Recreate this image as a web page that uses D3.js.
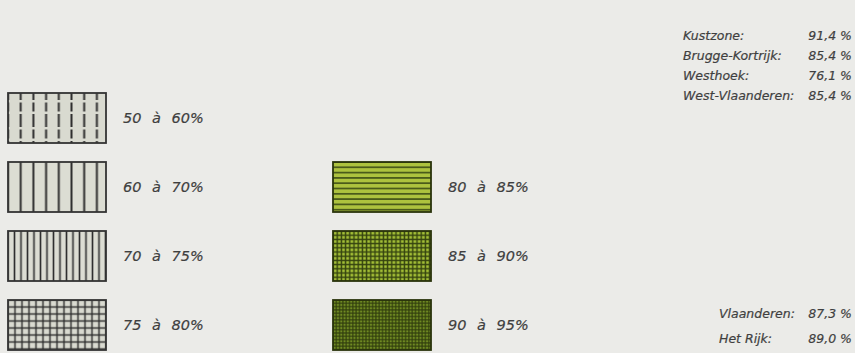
<!DOCTYPE html>
<html>
<head>
<meta charset="utf-8">
<script src="https://cdn.jsdelivr.net/npm/d3@7"></script>
<style>
	body { margin: 0; background: #ebebe8; }
	svg { display: block; }
	.lbl { font-family: "DejaVu Sans", sans-serif; font-style: italic; fill: #3f3f3f; stroke: #3f3f3f; stroke-width: 0.2px; }
</style>
</head>
<body>
<div id="chart"></div>
<script>
// legend classes (percentage bands)
var classLabels = ["50 à 60%", "60 à 70%", "70 à 75%", "75 à 80%", "80 à 85%", "85 à 90%", "90 à 95%"];
var classColumn = [0, 0, 0, 0, 1, 1, 1];
var classRow = [0, 1, 2, 3, 1, 2, 3];

// regional figures
var regions = ["Kustzone:", "Brugge-Kortrijk:", "Westhoek:", "West-Vlaanderen:"];
var regionValues = ["91,4 %", "85,4 %", "76,1 %", "85,4 %"];
var totals = ["Vlaanderen:", "Het Rijk:"];
var totalValues = ["87,3 %", "89,0 %"];

var width = 855, height = 353;
var svg = d3.select("#chart").append("svg").attr("width", width).attr("height", height);

svg.append("rect").attr("width", width).attr("height", height).attr("fill", "#ebebe8");

var defs = svg.append("defs");

var swW = 98, swH = 50;
var xCol = d3.scaleOrdinal().domain([0, 1]).range([8, 333]);
var yRow = d3.scalePoint().domain([0, 1, 2, 3]).range([118, 325]);

// pattern definitions: fill, line colour, vertical step, horizontal step, dash
var pats = [
	{ fill: "#d9dad0", stroke: "#2f2f2f", vx: 12.7, hy: 0, dash: "9 2.5", sw: 2 },
	{ fill: "#dcddd3", stroke: "#2f2f2f", vx: 12.7, hy: 0, dash: null, sw: 2 },
	{ fill: "#dcddd3", stroke: "#2f2f2f", vx: 6.5, hy: 0, dash: null, sw: 1.6 },
	{ fill: "#d9dad0", stroke: "#2a2a2a", vx: 7.0, hy: 7.0, dash: null, sw: 1.4 },
	{ fill: "#adc23e", stroke: "#4a5a1a", vx: 0, hy: 5.3, dash: null, sw: 1.6 },
	{ fill: "#a2bd36", stroke: "#34420f", vx: 4.2, hy: 4.2, dash: null, sw: 1.4 },
	{ fill: "#6f8a22", stroke: "#2f3c0c", vx: 3.3, hy: 3.3, dash: null, sw: 1.1 }
];

pats.forEach(function (p, i) {
	var pw = p.vx || swW, ph = p.hy || swH;
	var pat = defs.append("pattern")
		.attr("id", "pat" + i)
		.attr("patternUnits", "userSpaceOnUse")
		.attr("x", xCol(classColumn[i]) + pw / 2)
		.attr("y", yRow(classRow[i]) - swH / 2 + ph / 2)
		.attr("width", pw)
		.attr("height", ph);
	pat.append("rect").attr("width", pw).attr("height", ph).attr("fill", p.fill);
	if (p.vx) {
		pat.append("line").attr("x1", pw / 2).attr("x2", pw / 2).attr("y1", 0).attr("y2", ph)
			.attr("stroke", p.stroke).attr("stroke-width", p.sw)
			.attr("stroke-dasharray", p.dash);
	}
	if (p.hy) {
		pat.append("line").attr("x1", 0).attr("x2", pw).attr("y1", ph / 2).attr("y2", ph / 2)
			.attr("stroke", p.stroke).attr("stroke-width", p.sw);
	}
});

var items = svg.selectAll("g.item")
	.data(classLabels)
	.enter()
	.append("g")
	.attr("class", "item");

items.append("rect")
	.attr("x", function (d, i) { return xCol(classColumn[i]); })
	.attr("y", function (d, i) { return yRow(classRow[i]) - swH / 2; })
	.attr("width", swW)
	.attr("height", swH)
	.attr("fill", function (d, i) { return "url(#pat" + i + ")"; })
	.attr("stroke", function (d, i) { return classColumn[i] ? "#2a340c" : "#333"; })
	.attr("stroke-width", 1.8);

items.append("text")
	.attr("class", "lbl")
	.attr("x", function (d, i) { return xCol(classColumn[i]) + swW + 17; })
	.attr("y", function (d, i) { return yRow(classRow[i]) + 5; })
	.style("font-size", "14.5px")
	.style("word-spacing", "6px")
	.text(function (d) { return d; });

// regional figures block
var yReg = d3.scalePoint().domain(d3.range(regions.length)).range([40, 100]);
svg.selectAll("text.reg")
	.data(regions)
	.enter()
	.append("text")
	.attr("class", "lbl reg")
	.attr("x", 683)
	.attr("y", function (d, i) { return yReg(i); })
	.style("font-size", "12.5px")
	.text(function (d) { return d; });

svg.selectAll("text.regv")
	.data(regionValues)
	.enter()
	.append("text")
	.attr("class", "lbl regv")
	.attr("x", 852)
	.attr("y", function (d, i) { return yReg(i); })
	.attr("text-anchor", "end")
	.style("font-size", "12.5px")
	.text(function (d) { return d; });

var yTot = d3.scalePoint().domain(d3.range(totals.length)).range([318, 343]);
svg.selectAll("text.tot")
	.data(totals)
	.enter()
	.append("text")
	.attr("class", "lbl tot")
	.attr("x", 719)
	.attr("y", function (d, i) { return yTot(i); })
	.style("font-size", "12.5px")
	.text(function (d) { return d; });

svg.selectAll("text.totv")
	.data(totalValues)
	.enter()
	.append("text")
	.attr("class", "lbl totv")
	.attr("x", 852)
	.attr("y", function (d, i) { return yTot(i); })
	.attr("text-anchor", "end")
	.style("font-size", "12.5px")
	.text(function (d) { return d; });
</script>
</body>
</html>
